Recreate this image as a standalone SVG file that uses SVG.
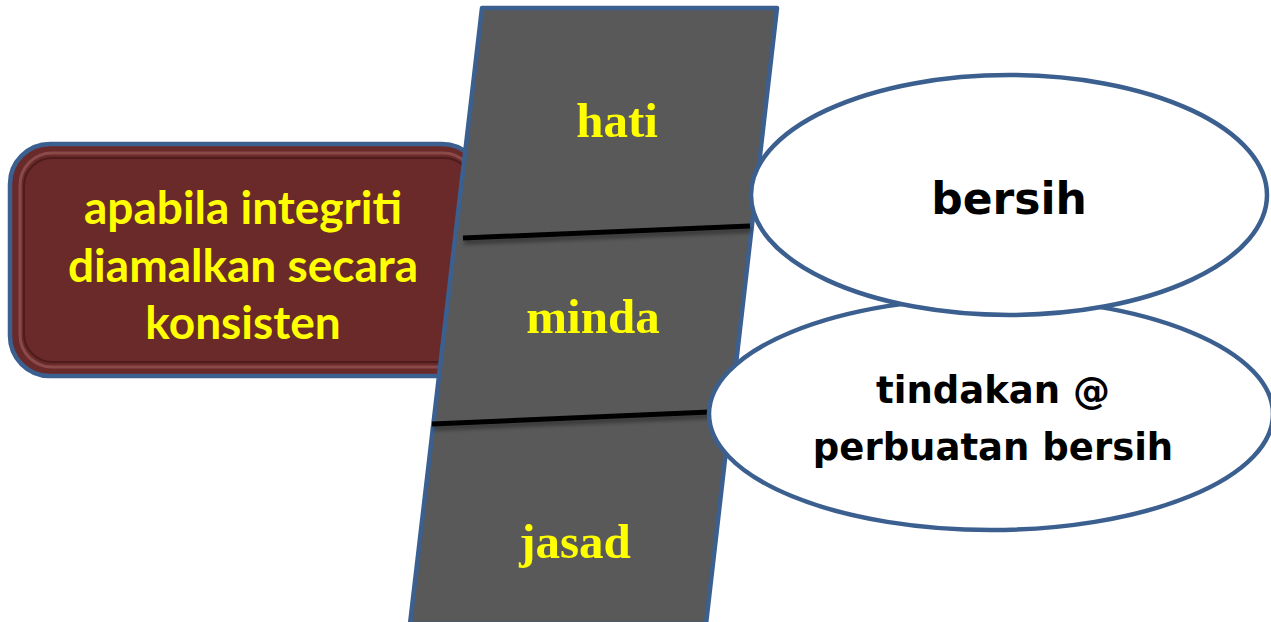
<svg xmlns="http://www.w3.org/2000/svg" width="1271" height="622" viewBox="0 0 1271 622">
<style>
.blue{stroke:#3B5F8F;stroke-width:4.5}
.yel{fill:#FFFF00;font-family:"Liberation Serif",serif;font-weight:bold;font-size:49px;text-anchor:middle}
.yel2{fill:#FFFF00;font-family:Lato,"Open Sans",sans-serif;font-weight:bold;font-size:46px;text-anchor:middle}
.blk{fill:#000;font-family:"DejaVu Sans",sans-serif;font-weight:bold;text-anchor:middle}
.div{stroke:#000;stroke-width:5}
</style>
<defs>
<filter id="sh" x="-5%" y="-50%" width="110%" height="300%">
<feGaussianBlur in="SourceAlpha" stdDeviation="2"/>
<feOffset dx="1" dy="4"/>
<feComponentTransfer><feFuncA type="linear" slope="0.4"/></feComponentTransfer>
<feMerge><feMergeNode/><feMergeNode in="SourceGraphic"/></feMerge>
</filter>
</defs>
<g id="box">
<rect x="10" y="144" width="472" height="232" rx="40" fill="#6B2A2A" class="blue"/>
<rect x="20" y="153" width="455" height="214" rx="32" fill="none" stroke="#8a4a4a" stroke-width="3"/>
<rect x="24" y="158" width="448" height="204" rx="28" fill="#6B2A2A" stroke="#4e1c1c" stroke-width="2"/>
<text class="yel2" x="243" y="224">apabila integriti</text>
<text class="yel2" x="243" y="282">diamalkan secara</text>
<text class="yel2" x="243" y="339">konsisten</text>
</g>
<g id="column">
<polygon points="482,8 777,8 706,624 410,624" fill="#595959" class="blue" stroke-linejoin="round"/>
<text class="yel" x="617" y="137">hati</text>
<text class="yel" x="593" y="333">minda</text>
<text class="yel" x="575" y="558">jasad</text>
</g>
<g id="connectors" filter="url(#sh)">
<line class="div" x1="463" y1="238" x2="750" y2="226"/>
<line class="div" x1="432" y1="424" x2="710" y2="412"/>
</g>
<g id="ellipse2">
<ellipse cx="991" cy="414" rx="282" ry="116" fill="#fff" class="blue"/>
<text class="blk" x="993" y="403" font-size="37">tindakan @</text>
<text class="blk" x="993" y="460" font-size="37">perbuatan bersih</text>
</g>
<g id="ellipse1">
<ellipse cx="1009" cy="195" rx="258" ry="120" fill="#fff" class="blue"/>
<text class="blk" x="1009" y="214" font-size="44">bersih</text>
</g>
</svg>
